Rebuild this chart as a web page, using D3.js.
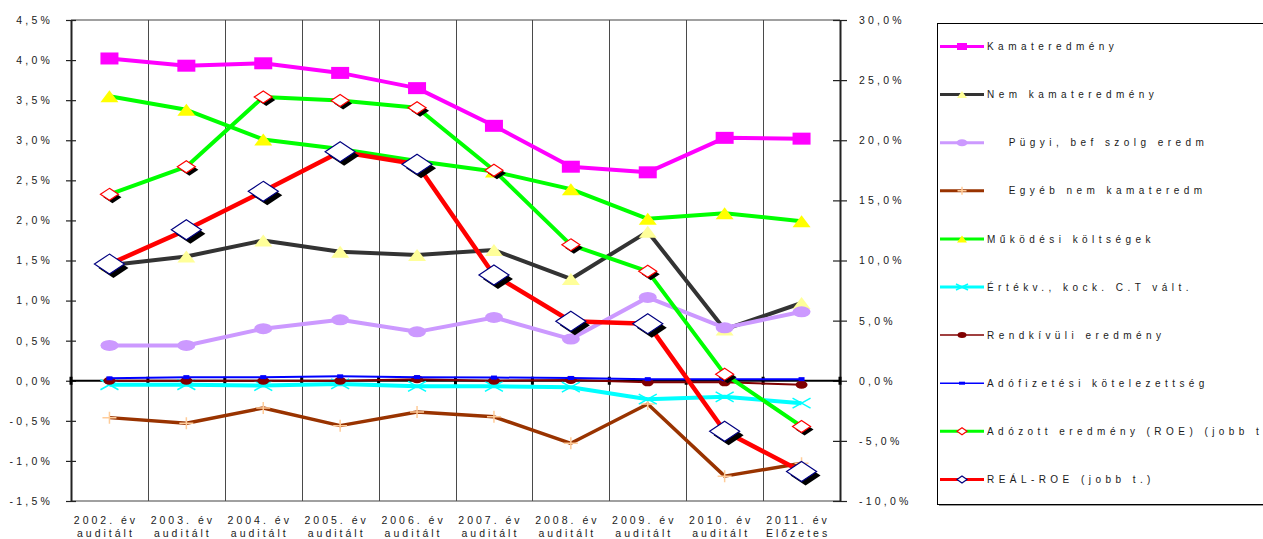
<!DOCTYPE html>
<html>
<head>
<meta charset="utf-8">
<script src="https://cdn.jsdelivr.net/npm/d3@7"></script>
<style>
  html, body { margin: 0; padding: 0; background: #fff; }
  svg { display: block; font-family: "Liberation Sans", Arial, sans-serif; }
  .lbl { fill: #1a1a1a; }
</style>
</head>
<body>
<svg id="chart" width="1263" height="539"></svg>
<script>
// ---- data -------------------------------------------------------------
const years   = ["2002. év","2003. év","2004. év","2005. év","2006. év","2007. év","2008. év","2009. év","2010. év","2011. év"];
const status  = ["auditált","auditált","auditált","auditált","auditált","auditált","auditált","auditált","auditált","Előzetes"];

// left axis, % of assets
const kamateredmeny      = [4.02, 3.93, 3.96, 3.84, 3.65, 3.18, 2.67, 2.60, 3.03, 3.02];
const nemKamateredmeny   = [1.44, 1.55, 1.75, 1.61, 1.57, 1.63, 1.27, 1.86, 0.64, 0.97];
const penzugyiSzolg      = [0.44, 0.44, 0.65, 0.76, 0.61, 0.79, 0.52, 1.04, 0.66, 0.86];
const egyebNemKamat      = [-0.46, -0.53, -0.34, -0.56, -0.39, -0.45, -0.78, -0.29, -1.19, -1.03];
const mukodesiKoltseg    = [3.55, 3.38, 3.01, 2.89, 2.74, 2.61, 2.39, 2.02, 2.09, 1.99];
const ertekvesztes       = [-0.05, -0.05, -0.06, -0.04, -0.07, -0.07, -0.08, -0.23, -0.20, -0.28];
const rendkivuli         = [0.00, 0.00, 0.00, 0.00, 0.02, 0.00, 0.01, -0.02, -0.02, -0.05];
const adofizetes         = [0.03, 0.045, 0.045, 0.055, 0.045, 0.04, 0.035, 0.02, 0.02, 0.02];
// right axis, %
const roe                = [15.5, 17.8, 23.6, 23.3, 22.7, 17.5, 11.3, 9.1, 0.55, -3.8];
const realRoe            = [9.7, 12.55, 15.75, 19.05, 18.0, 8.8, 4.95, 4.75, -4.2, -7.55];

const seriesNames = [
  "Kamateredmény",
  "Nem kamateredmény",
  "   Pügyi, bef szolg eredm",
  "   Egyéb nem kamateredm",
  "Működési költségek",
  "Értékv., kock. C.T vált.",
  "Rendkívüli eredmény",
  "Adófizetési kötelezettség",
  "Adózott eredmény (ROE) (jobb t.",
  "REÁL-ROE (jobb t.)"
];

const leftTicks  = [-1.5, -1.0, -0.5, 0, 0.5, 1.0, 1.5, 2.0, 2.5, 3.0, 3.5, 4.0, 4.5];
const rightTicks = [-10, -5, 0, 5, 10, 15, 20, 25, 30];

// ---- styles ------------------------------------------------------------
const styles = [
  { axis: "L", line: "#ff00ff", lw: 4,   marker: "square",   fill: "#ff00ff", stroke: "none",    w: 18, h: 12 },
  { axis: "L", line: "#333333", lw: 4,   marker: "triangle", fill: "#ffff99", stroke: "none",    w: 18, h: 12 },
  { axis: "L", line: "#cc99ff", lw: 4,   marker: "ellipse",  fill: "#cc99ff", stroke: "none",    w: 18, h: 11 },
  { axis: "L", line: "#993300", lw: 3.5, marker: "plus",     fill: "none",    stroke: "#ffcc99", w: 14, h: 12 },
  { axis: "L", line: "#00ff00", lw: 4,   marker: "triangle", fill: "#ffff00", stroke: "none",    w: 18, h: 12 },
  { axis: "L", line: "#00ffff", lw: 4,   marker: "cross",    fill: "none",    stroke: "#00ffff", w: 18, h: 10 },
  { axis: "L", line: "#800000", lw: 2,   marker: "ellipse",  fill: "#800000", stroke: "none",    w: 12, h: 8 },
  { axis: "L", line: "#0000ff", lw: 2,   marker: "square",   fill: "#0000ff", stroke: "none",    w: 6,  h: 4 },
  { axis: "R", line: "#00ff00", lw: 4,   marker: "diamond",  fill: "#ffffff", stroke: "#ff0000", w: 18, h: 12, shadow: 3 },
  { axis: "R", line: "#ff0000", lw: 4.5, marker: "diamond",  fill: "#ffffff", stroke: "#000080", w: 30, h: 20, shadow: 4 }
];
const allValues = [kamateredmeny, nemKamateredmeny, penzugyiSzolg, egyebNemKamat, mukodesiKoltseg,
                   ertekvesztes, rendkivuli, adofizetes, roe, realRoe];
const series = seriesNames.map((name, i) => ({ name, values: allValues[i], ...styles[i] }));

// ---- layout ------------------------------------------------------------
const plot = { left: 71, right: 840, top: 20, bottom: 501 };
const svg = d3.select("#chart");
svg.append("rect").attr("width", 1263).attr("height", 539).attr("fill", "#fff");

const x  = d3.scaleBand().domain(years).range([plot.left, plot.right]);
const cx = d => x(d) + x.bandwidth() / 2;
const yL = d3.scaleLinear().domain([-1.5, 4.5]).range([plot.bottom, plot.top]);
const yR = d3.scaleLinear().domain([-10, 30]).range([plot.bottom, plot.top]);
const fmtPct = v => d3.format(".1f")(v).replace(".", ",").replace("−", "-") + "%";

// plot frame: top and bottom rules
svg.append("line").attr("x1", plot.left).attr("x2", plot.right).attr("y1", plot.top).attr("y2", plot.top)
  .attr("stroke", "#a0a0a0").attr("stroke-width", 2);
svg.append("line").attr("x1", plot.left).attr("x2", plot.right).attr("y1", plot.bottom).attr("y2", plot.bottom)
  .attr("stroke", "#a0a0a0").attr("stroke-width", 2);

// vertical separators between years
svg.append("g").selectAll("line").data(years.slice(1)).join("line")
  .attr("x1", d => Math.round(x(d)) + 0.5).attr("x2", d => Math.round(x(d)) + 0.5)
  .attr("y1", plot.top).attr("y2", plot.bottom)
  .attr("stroke", "#4a4a4a").attr("stroke-width", 1);

// left axis
const axL = svg.append("g").attr("transform", `translate(${plot.left},0)`)
  .call(d3.axisLeft(yL).tickValues(leftTicks).tickFormat(fmtPct).tickSizeOuter(0).tickPadding(12));
axL.select(".domain").attr("stroke", "#222").attr("stroke-width", 2);
axL.selectAll(".tick line").attr("x1", 5).attr("x2", -5).attr("stroke", "#222").attr("stroke-width", 1.2);
axL.selectAll(".tick text").attr("class", "lbl").attr("font-size", 10.5)
  .style("letter-spacing", "3.2px").attr("font-family", "Liberation Sans, Arial, sans-serif");

// right axis
const axR = svg.append("g").attr("transform", `translate(${plot.right},0)`)
  .call(d3.axisRight(yR).tickValues(rightTicks).tickFormat(fmtPct).tickSizeOuter(0).tickPadding(13));
axR.select(".domain").attr("stroke", "#222").attr("stroke-width", 2);
axR.selectAll(".tick line").attr("x1", -7).attr("x2", 7).attr("stroke", "#222").attr("stroke-width", 1.2);
axR.selectAll(".tick text").attr("class", "lbl").attr("font-size", 10.5)
  .style("letter-spacing", "3.2px").attr("font-family", "Liberation Sans, Arial, sans-serif");

// zero line with year ticks
const y0 = yL(0);
svg.append("line").attr("x1", plot.left).attr("x2", plot.right).attr("y1", y0).attr("y2", y0)
  .attr("stroke", "#000").attr("stroke-width", 2);
svg.append("g").selectAll("line").data(years.concat(["end"])).join("line")
  .attr("x1", d => d === "end" ? plot.right : x(d)).attr("x2", d => d === "end" ? plot.right : x(d))
  .attr("y1", y0 - 4).attr("y2", y0 + 4)
  .attr("stroke", "#000").attr("stroke-width", 3);

// category labels (two lines)
const xl = svg.append("g").attr("class", "lbl").attr("font-size", 10.5).style("letter-spacing", "3px")
  .attr("text-anchor", "middle");
xl.selectAll("text.yr").data(years).join("text").attr("class", "yr")
  .attr("x", d => cx(d) - 3.5).attr("y", 524).text(d => d);
xl.selectAll("text.st").data(years.map((d, i) => [d, status[i]])).join("text").attr("class", "st")
  .attr("x", d => cx(d[0]) - 3.5).attr("y", 537).text(d => d[1]);

// ---- markers -------------------------------------------------------------
function markerPath(type, w, h) {
  const a = w / 2, b = h / 2;
  switch (type) {
    case "square":   return `M${-a},${-b}H${a}V${b}H${-a}Z`;
    case "triangle": return `M0,${-b}L${a},${b}L${-a},${b}Z`;
    case "diamond":  return `M0,${-b}L${a},0L0,${b}L${-a},0Z`;
    case "plus":     return `M${-a},0H${a}M0,${-b}V${b}`;
    case "cross":    return `M${-a},${-b}L${a},${b}M${-a},${b}L${a},${-b}`;
    case "ellipse":  return `M${-a},0A${a},${b} 0 1,0 ${a},0A${a},${b} 0 1,0 ${-a},0Z`;
  }
}
function drawMarker(g, s, w, h, shadow) {
  if (shadow) {
    g.append("path").attr("d", markerPath(s.marker, w, h))
      .attr("transform", `translate(${shadow},${shadow})`).attr("fill", "#000");
  }
  g.append("path").attr("d", markerPath(s.marker, w, h))
    .attr("fill", s.fill).attr("stroke", s.stroke)
    .attr("stroke-width", s.marker === "plus" || s.marker === "cross" ? 1.5 : 1.2);
}

// ---- series ------------------------------------------------------------
const gSeries = svg.append("g");
series.forEach(s => {
  const yScale = s.axis === "L" ? yL : yR;
  const pts = s.values.map((v, i) => [cx(years[i]), yScale(v)]);
  const g = gSeries.append("g");
  g.append("path").attr("d", d3.line()(pts)).attr("fill", "none")
    .attr("stroke", s.line).attr("stroke-width", s.lw).attr("stroke-linejoin", "round");
  pts.forEach(p => {
    const m = g.append("g").attr("transform", `translate(${p[0]},${p[1]})`);
    drawMarker(m, s, s.w, s.h, s.shadow);
  });
});

// ---- legend ------------------------------------------------------------
const lg = svg.append("g");
lg.append("rect").attr("x", 939).attr("y", 25).attr("width", 340).attr("height", 481).attr("fill", "#9a9a9a");
lg.append("rect").attr("x", 937.5).attr("y", 23.5).attr("width", 340).attr("height", 481)
  .attr("fill", "#fff").attr("stroke", "#000").attr("stroke-width", 1);

const legendSizes = [[10,7],[10,7],[11,7],[9,8],[10,7],[12,6],[9,6],[6,3],[10,7],[10,7]];
series.forEach((s, i) => {
  const ly = 46.5 + i * 48.1;
  const item = lg.append("g").attr("transform", `translate(0,${ly})`);
  item.append("line").attr("x1", 940).attr("x2", 984).attr("y1", 0).attr("y2", 0)
    .attr("stroke", s.line).attr("stroke-width", s.lw >= 3 ? 3 : 1.5);
  const m = item.append("g").attr("transform", "translate(962,0)");
  drawMarker(m, s, legendSizes[i][0], legendSizes[i][1], 0);
  item.append("text").attr("class", "lbl").attr("x", 987).attr("y", 0).attr("dy", "0.36em")
    .attr("font-size", 10).style("letter-spacing", "4.45px").style("white-space", "pre")
    .text(s.name);
});
</script>
</body>
</html>
